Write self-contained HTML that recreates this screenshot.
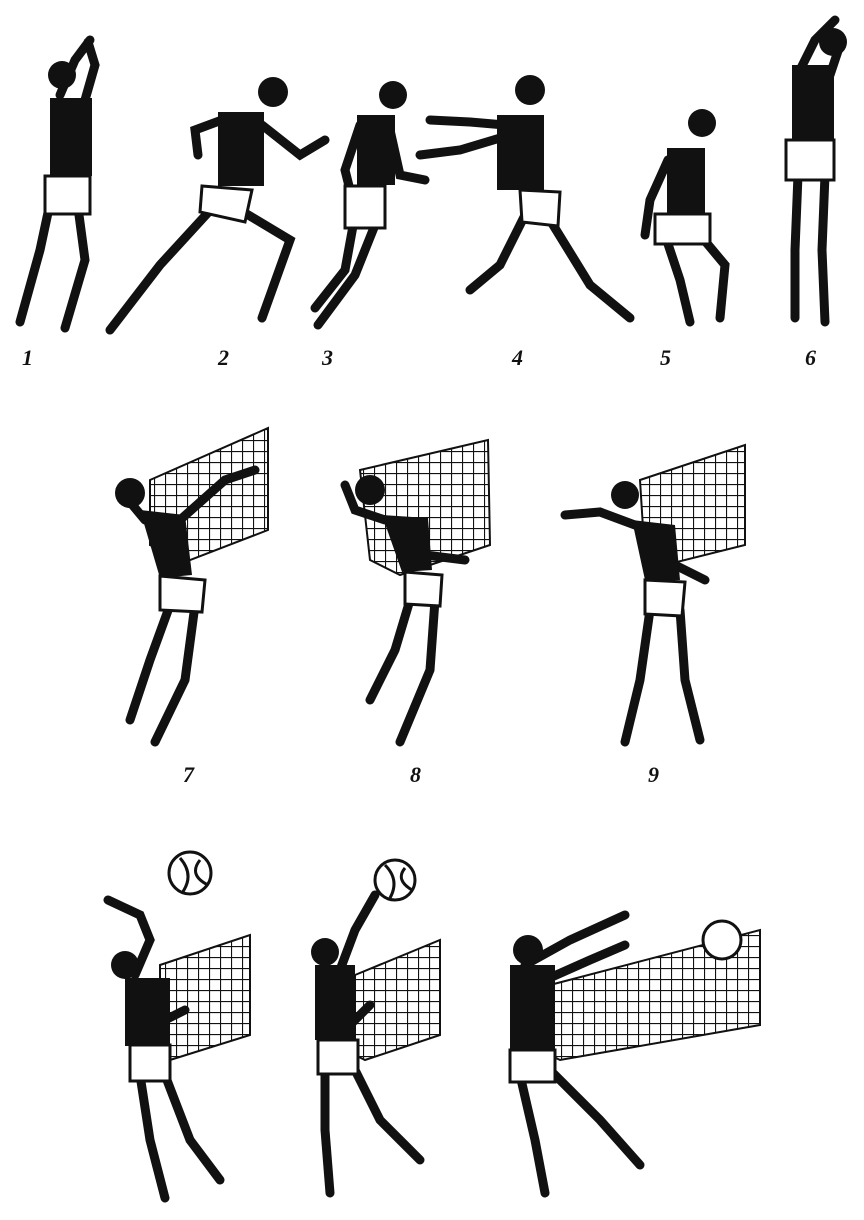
<!DOCTYPE html>
<html><head><meta charset="utf-8"><style>
html,body{margin:0;padding:0;background:#fff}
svg{display:block}
text{font-family:"Liberation Serif",serif;font-style:italic;font-weight:bold;font-size:22px;fill:#111}
</style></head><body>
<svg width="864" height="1220" viewBox="0 0 864 1220" xmlns="http://www.w3.org/2000/svg">
<defs>
<pattern id="net" width="11" height="11" patternUnits="userSpaceOnUse">
<path d="M0 0H11M0 0V11" stroke="#111" stroke-width="2.2" fill="none"/>
</pattern>
</defs>
<g fill="url(#net)" stroke="#111" stroke-width="2">
<polygon points="150,480 268,428 268,530 190,560 150,545"/>
<polygon points="360,470 488,440 490,545 400,575 370,560"/>
<polygon points="640,480 745,445 745,545 665,565 645,560"/>
<polygon points="160,965 250,935 250,1035 170,1060 160,1055"/>
<polygon points="355,975 440,940 440,1035 365,1060 355,1055"/>
<polygon points="550,985 760,930 760,1025 560,1060 550,1055"/>
</g>
<g fill="#fff" stroke="#111" stroke-width="3">
<circle cx="190" cy="873" r="21"/><circle cx="395" cy="880" r="20"/><circle cx="722" cy="940" r="19"/>
</g>
<g fill="none" stroke="#111" stroke-width="3">
<path d="M180 858 Q195 875 182 893 M200 860 Q188 875 208 885"/>
<path d="M385 865 Q400 880 390 898 M405 868 Q395 880 412 890"/>
</g>
<g stroke="#111" stroke-width="9" stroke-linecap="round" fill="none">
<!-- 1 -->
<path d="M55 180 L40 250 L20 322 M75 185 L85 260 L65 328"/>
<path d="M60 95 L75 60 L90 40 M85 100 L95 65 L88 42"/>
<!-- 2 -->
<path d="M215 205 L160 265 L110 330 M240 210 L290 240 L262 318"/>
<path d="M222 120 L195 130 L198 155 M262 125 L300 155 L325 140"/>
<!-- 3 -->
<path d="M355 215 L345 270 L315 308 M375 225 L355 275 L318 325"/>
<path d="M360 125 L345 170 L355 210 M390 130 L400 175 L425 180"/>
<!-- 4 -->
<path d="M525 215 L500 265 L470 290 M550 220 L590 285 L630 318"/>
<path d="M505 125 L470 122 L430 120 M510 135 L460 150 L420 155"/>
<!-- 5 -->
<path d="M665 235 L680 280 L690 322 M700 235 L725 265 L720 318"/>
<path d="M668 160 L650 200 L645 235"/>
<!-- 6 -->
<path d="M798 175 L795 250 L795 318 M825 175 L822 250 L825 322"/>
<path d="M800 70 L815 40 L835 20 M830 75 L840 45"/>
<!-- 7 -->
<path d="M170 605 L150 660 L130 720 M195 605 L185 680 L155 742"/>
<path d="M145 520 L120 490 M180 520 L225 480 L255 470"/>
<!-- 8 -->
<path d="M410 600 L395 650 L370 700 M435 600 L430 670 L400 742"/>
<path d="M385 520 L355 510 L345 485 M425 555 L465 560"/>
<!-- 9 -->
<path d="M650 610 L640 680 L625 742 M680 610 L685 680 L700 740"/>
<path d="M635 525 L600 512 L565 515 M675 565 L705 580"/>
<!-- 10 -->
<path d="M140 1075 L150 1140 L165 1198 M165 1075 L190 1140 L220 1180"/>
<path d="M135 975 L150 940 L140 915 L108 900 M165 1020 L185 1010"/>
<!-- 11 -->
<path d="M325 1065 L325 1130 L330 1193 M350 1060 L380 1120 L420 1160"/>
<path d="M340 970 L355 930 L375 895 M345 1030 L370 1005"/>
<!-- 12 -->
<path d="M520 1075 L535 1140 L545 1193 M550 1070 L600 1120 L640 1165"/>
<path d="M525 965 L570 940 L625 915 M545 980 L590 960 L625 945"/>
</g>
<g fill="#111">
<circle cx="62" cy="75" r="14"/><rect x="50" y="98" width="42" height="78"/>
<circle cx="273" cy="92" r="15"/><rect x="218" y="112" width="46" height="74"/>
<circle cx="393" cy="95" r="14"/><rect x="357" y="115" width="38" height="70"/>
<circle cx="530" cy="90" r="15"/><rect x="497" y="115" width="47" height="75"/>
<circle cx="702" cy="123" r="14"/><rect x="667" y="148" width="38" height="66"/>
<circle cx="833" cy="42" r="14"/><rect x="792" y="65" width="42" height="75"/>
<circle cx="130" cy="493" r="15"/><path d="M140 510 L185 515 L192 575 L160 578 Z"/>
<circle cx="370" cy="490" r="15"/><path d="M382 515 L428 518 L432 570 L402 572 Z"/>
<circle cx="625" cy="495" r="14"/><path d="M632 520 L675 525 L680 580 L645 580 Z"/>
<circle cx="125" cy="965" r="14"/><rect x="125" y="978" width="45" height="68"/>
<circle cx="325" cy="952" r="14"/><rect x="315" y="965" width="40" height="75"/>
<circle cx="528" cy="950" r="15"/><rect x="510" y="965" width="45" height="85"/>
</g>
<g fill="#fff" stroke="#111" stroke-width="3">
<rect x="45" y="176" width="45" height="38"/>
<path d="M202 186 L252 190 L245 222 L200 212 Z"/>
<rect x="345" y="186" width="40" height="42"/>
<path d="M520 190 L560 192 L558 226 L522 222 Z"/>
<rect x="655" y="214" width="55" height="30"/>
<rect x="786" y="140" width="48" height="40"/>
<path d="M160 576 L205 580 L202 612 L160 610 Z"/>
<path d="M405 572 L442 575 L440 606 L405 604 Z"/>
<path d="M645 580 L685 582 L682 616 L645 614 Z"/>
<rect x="130" y="1045" width="40" height="36"/>
<rect x="318" y="1040" width="40" height="34"/>
<rect x="510" y="1050" width="45" height="32"/>
</g>
<text x="22" y="365">1</text><text x="218" y="365">2</text><text x="322" y="365">3</text>
<text x="512" y="365">4</text><text x="660" y="365">5</text><text x="805" y="365">6</text>
<text x="183" y="782">7</text><text x="410" y="782">8</text><text x="648" y="782">9</text>
</svg>
</body></html>
